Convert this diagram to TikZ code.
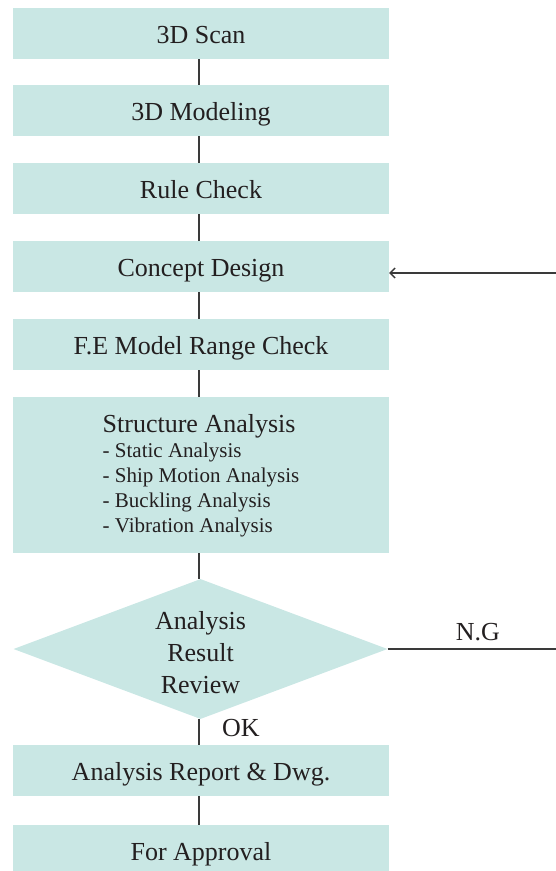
\documentclass[tikz,border=0pt]{standalone}
\usepackage{fontspec}
\setmainfont{Liberation Serif}
\usetikzlibrary{shapes.geometric,arrows.meta}
\definecolor{boxfill}{HTML}{C9E7E4}
\definecolor{linec}{HTML}{3A3A3A}
\definecolor{textc}{HTML}{231F20}
\newcommand{\mainsz}{\fontsize{26}{32}\selectfont}
\newcommand{\subsz}{\fontsize{21}{25}\selectfont}
\tikzset{
  flowbox/.style={rectangle, fill=boxfill, draw=none, minimum width=376pt, minimum height=51pt, inner sep=0pt, font=\mainsz, text=textc, text height=24pt, text depth=5pt},
  decision/.style={diamond, fill=boxfill, draw=none, minimum width=374pt, minimum height=140pt, inner sep=0pt},
  conn/.style={draw=linec, line width=1.3pt},
  lbl/.style={font=\mainsz, text=textc, inner sep=0pt}
}
\begin{document}
\begin{tikzpicture}[x=1pt, y=-1pt]
\path[use as bounding box] (0,0) rectangle (556,871);
\node[flowbox] (b1) at (201,33.5) {3D Scan};
\node[flowbox] (b2) at (201,110.5) {3D Modeling};
\node[flowbox] (b3) at (201,188.5) {Rule Check};
\node[flowbox] (b4) at (201,266.5) {Concept Design};
\node[flowbox] (b5) at (201,344.5) {F.E Model Range Check};
\node[flowbox, minimum height=156pt, text height=, text depth=] (b6) at (201,475) {};
\node[font=\subsz, text=textc, align=left, inner sep=0pt] (b6t) at (201,476) {{\mainsz Structure Analysis}\\- Static Analysis\\- Ship Motion Analysis\\- Buckling Analysis\\- Vibration Analysis};
\node[decision] (d) at (200.5,649) {};
\node[font=\mainsz, text=textc, align=center, inner sep=0pt] (dt) at (200.5,653) {Analysis\\Result\\Review};
\node[flowbox] (b8) at (201,770.5) {Analysis Report \& Dwg.};
\node[flowbox] (b9) at (201,850.5) {For Approval};
\coordinate (fbIn) at (556,273);
\coordinate (ngOut) at (556,649);
\draw[conn] (b1.south -| 199,0) -- (b2.north -| 199,0);
\draw[conn] (b2.south -| 199,0) -- (b3.north -| 199,0);
\draw[conn] (b3.south -| 199,0) -- (b4.north -| 199,0);
\draw[conn] (b4.south -| 199,0) -- (b5.north -| 199,0);
\draw[conn] (b5.south -| 199,0) -- (b6.north -| 199,0);
\draw[conn] (b6.south -| 199,0) -- (d.north -| 199,0);
\draw[conn] (d.south -| 199,0) -- (b8.north -| 199,0);
\draw[conn] (b8.south -| 199,0) -- (b9.north -| 199,0);
\draw[conn] (d.east) -- (ngOut);
\draw[conn, -{Straight Barb[length=5pt,width=10pt]}] (fbIn) -- (b4.east |- fbIn);
\node[lbl, anchor=base west] (ok) at (222,736) {OK};
\node[lbl, anchor=base] (ng) at (478,640) {N.G};
\end{tikzpicture}
\end{document}
